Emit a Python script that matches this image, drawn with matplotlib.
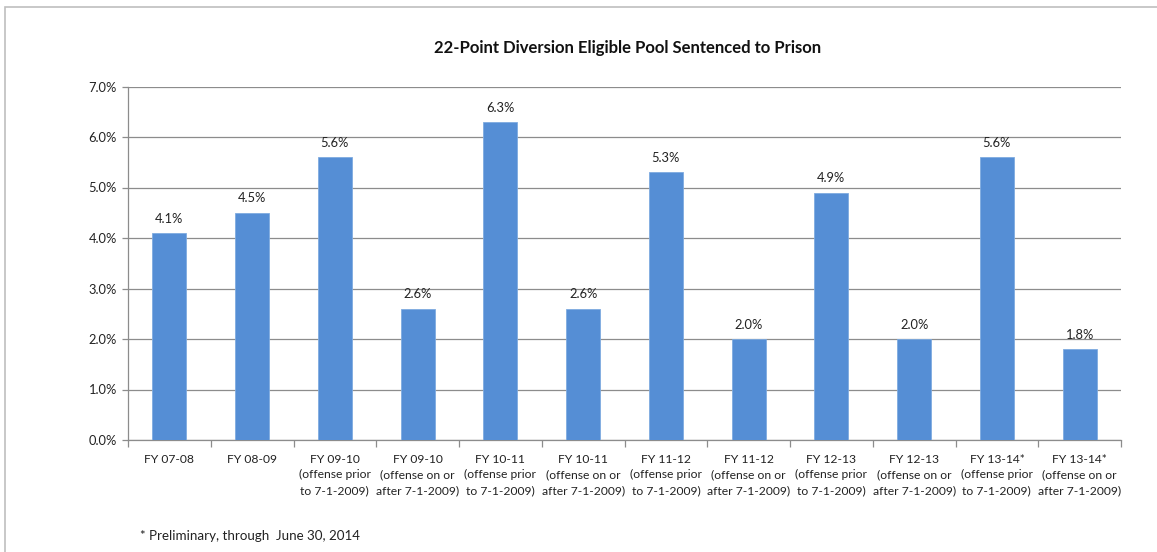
import matplotlib
matplotlib.use("Agg")
import matplotlib.pyplot as plt
from matplotlib.patches import Rectangle
from matplotlib.ticker import FixedLocator, FuncFormatter
import numpy as np

plt.rcParams['font.family'] = ['Lato', 'DejaVu Sans']

# Fiscal-year groups and share of the eligible pool sentenced to prison (%)
categories = [
    "FY 07-08",
    "FY 08-09",
    "FY 09-10\n(offense prior\nto 7-1-2009)",
    "FY 09-10\n(offense on or\nafter 7-1-2009)",
    "FY 10-11\n(offense prior\nto 7-1-2009)",
    "FY 10-11\n(offense on or\nafter 7-1-2009)",
    "FY 11-12\n(offense prior\nto 7-1-2009)",
    "FY 11-12\n(offense on or\nafter 7-1-2009)",
    "FY 12-13\n(offense prior\nto 7-1-2009)",
    "FY 12-13\n(offense on or\nafter 7-1-2009)",
    "FY 13-14*\n(offense prior\nto 7-1-2009)",
    "FY 13-14*\n(offense on or\nafter 7-1-2009)",
]
values = [4.1, 4.5, 5.6, 2.6, 6.3, 2.6, 5.3, 2.0, 4.9, 2.0, 5.6, 1.8]
y_ticks = [0.0, 1.0, 2.0, 3.0, 4.0, 5.0, 6.0, 7.0]

title = "22-Point Diversion Eligible Pool Sentenced to Prison"
footnote = "* Preliminary, through  June 30, 2014"

W, H = 1157, 552
fig = plt.figure(figsize=(W / 100, H / 100), dpi=100)
fig.patch.set_facecolor("white")

# Light chart-area frame
fig.add_artist(Rectangle((5 / W, -0.05), 1.2, 1 - 7 / H + 0.05,
                         transform=fig.transFigure, fill=False,
                         edgecolor="#bfbfbf", linewidth=1.2))

ax = fig.add_axes([128 / W, 1 - 440 / H, (1121 - 128) / W, (440 - 86.5) / H])

x = np.arange(len(values))
bar_color = "#558ED5"
ax.bar(x, values, width=0.41, color=bar_color, edgecolor="#7fabe0",
       linewidth=0.6, zorder=3)

for xi, v in zip(x, values):
    ax.annotate(f"{v:.1f}%", (xi, v), xytext=(0, 6), textcoords="offset points",
                ha="center", va="bottom", fontsize=9.3, color="#222222")

ax.set_xlim(-0.5, len(values) - 0.5)
ax.set_ylim(0, 7.0)

grid_color = "#8c8c8c"
ax.yaxis.set_major_locator(FixedLocator(y_ticks))
ax.yaxis.set_major_formatter(FuncFormatter(lambda v, p: f"{v:.1f}%"))
ax.grid(axis="y", color=grid_color, linewidth=0.9, zorder=0)
ax.tick_params(axis="y", length=4, width=0.9, color=grid_color,
               labelsize=9.3, labelcolor="#222222", pad=4)

ax.set_xticks(x)
ax.set_xticklabels(categories, fontsize=8.7, color="#222222", linespacing=1.5)
ax.xaxis.set_minor_locator(FixedLocator(np.arange(-0.5, len(values), 1.0)))
ax.tick_params(axis="x", which="major", length=0, pad=10)
ax.tick_params(axis="x", which="minor", length=5, width=0.9, color=grid_color)

for side in ("top", "right"):
    ax.spines[side].set_visible(False)
ax.spines["left"].set_color(grid_color)
ax.spines["bottom"].set_color(grid_color)
ax.spines["left"].set_linewidth(0.9)
ax.spines["bottom"].set_linewidth(0.9)

fig.text(628 / W, 1 - 48 / H, title, ha="center", va="center",
         fontsize=12, fontweight="bold", color="#111111")
fig.text(140 / W, 1 - 536 / H, footnote, ha="left", va="center",
         fontsize=9.6, color="#222222")

fig.savefig("out.png", dpi=100, facecolor="white")
